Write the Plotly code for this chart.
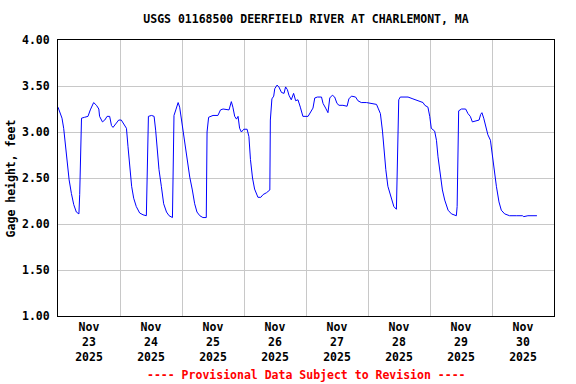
import pandas as pd
import plotly.graph_objects as go

# Hours since 2025-11-23 00:00 (local) and gage height (ft)
hours = [0.0, 0.66, 1.55, 2.2, 3.0, 3.6, 4.3, 5.2, 6.1, 7.1, 8.1, 8.4, 8.7, 9.1, 10.3, 11.6,
         12.5, 13.8, 14.9, 15.8, 16.1, 17.2, 18.1, 19.0, 20.0, 20.7, 21.3, 22.3, 23.5, 24.5,
         25.4, 26.5, 27.1, 27.8, 28.5, 29.3, 30.3, 31.6, 32.9, 34.2, 34.6, 35.0, 36.2, 37.2,
         37.8, 38.3, 39.1, 40.0, 40.9, 42.0, 43.0, 44.3, 44.5, 44.9, 45.6, 46.5, 47.1, 47.8,
         48.4, 49.0, 49.7, 50.3, 51.0, 52.0, 52.9, 53.8, 54.9, 56.1, 57.4, 57.7, 58.3, 60.0,
         61.9, 62.9, 63.9, 66.2, 67.1, 67.7, 68.4, 69.1, 69.7, 70.3, 71.0, 71.9, 73.2, 73.9,
         74.5, 75.3, 76.1, 77.4, 78.5, 79.4, 80.7, 82.0, 82.2, 82.8, 83.5, 83.9, 84.8, 85.5,
         86.5, 87.5, 88.1, 88.8, 89.4, 90.3, 91.2, 92.0, 92.9, 93.8, 94.8, 96.8, 97.8, 98.7,
         99.4, 100.4, 102.0, 102.6, 103.6, 104.5, 105.2, 106.2, 107.1, 108.0, 108.8, 110.3,
         111.9, 112.6, 113.6, 115.2, 116.1, 117.4, 119.4, 121.3, 123.3, 123.9, 124.8, 125.6,
         126.2, 126.9, 127.7, 129.1, 130.0, 131.0, 131.2, 131.9, 132.5, 135.5, 137.4, 139.4,
         141.3, 142.0, 143.2, 143.9, 144.5, 145.8, 146.5, 147.1, 148.0, 148.8, 149.7, 151.0,
         152.3, 154.2, 154.5, 154.8, 155.1, 156.2, 157.8, 158.7, 159.6, 160.4, 162.0, 163.0,
         163.6, 164.1, 164.8, 165.6, 166.4, 167.4, 168.0, 168.8, 169.7, 170.7, 171.6, 172.9,
         174.8, 177.4, 179.8, 180.3, 181.9, 185.4]
gage_ft = [3.27, 3.22, 3.15, 3.04, 2.84, 2.62, 2.48, 2.33, 2.21, 2.13, 2.11, 2.32, 2.79, 3.15, 3.16, 3.17,
           3.24, 3.32, 3.29, 3.25, 3.17, 3.11, 3.13, 3.17, 3.17, 3.07, 3.05, 3.09, 3.13, 3.13,
           3.09, 3.04, 2.84, 2.62, 2.41, 2.28, 2.19, 2.12, 2.10, 2.09, 2.51, 3.17, 3.18, 3.17,
           3.02, 2.84, 2.59, 2.41, 2.22, 2.13, 2.09, 2.07, 2.44, 3.18, 3.24, 3.32, 3.27, 3.13,
           2.99, 2.88, 2.77, 2.66, 2.51, 2.37, 2.22, 2.13, 2.09, 2.07, 2.07, 3.00, 3.16, 3.18,
           3.18, 3.24, 3.25, 3.24, 3.33, 3.27, 3.17, 3.14, 3.17, 3.04, 3.00, 3.03, 3.03, 2.95,
           2.70, 2.50, 2.38, 2.29, 2.29, 2.32, 2.34, 2.37, 3.13, 3.36, 3.39, 3.47, 3.51, 3.49,
           3.43, 3.42, 3.49, 3.46, 3.40, 3.35, 3.42, 3.34, 3.35, 3.27, 3.17, 3.17, 3.22, 3.26,
           3.37, 3.38, 3.38, 3.31, 3.26, 3.21, 3.37, 3.40, 3.38, 3.31, 3.29, 3.29,
           3.28, 3.36, 3.39, 3.38, 3.34, 3.32, 3.32, 3.31, 3.30, 3.26, 3.20, 3.01,
           2.80, 2.59, 2.41, 2.28, 2.19, 2.16, 2.52, 3.35, 3.38, 3.38, 3.36, 3.34,
           3.32, 3.29, 3.27, 3.17, 3.04, 3.01, 2.91, 2.73, 2.51, 2.37, 2.26, 2.15,
           2.11, 2.09, 2.19, 2.70, 3.23, 3.25, 3.25, 3.20, 3.17, 3.11, 3.12, 3.13,
           3.19, 3.21, 3.15, 3.06, 2.97, 2.91, 2.77, 2.59, 2.41, 2.24, 2.15, 2.11,
           2.09, 2.09, 2.09, 2.08, 2.09, 2.09]

days = ["2025-11-23", "2025-11-24", "2025-11-25", "2025-11-26",
        "2025-11-27", "2025-11-28", "2025-11-29", "2025-11-30"]
day_labels = ["Nov<br>23<br>2025", "Nov<br>24<br>2025", "Nov<br>25<br>2025", "Nov<br>26<br>2025",
              "Nov<br>27<br>2025", "Nov<br>28<br>2025", "Nov<br>29<br>2025", "Nov<br>30<br>2025"]
y_ticks = [1.0, 1.5, 2.0, 2.5, 3.0, 3.5, 4.0]

start = pd.Timestamp("2025-11-23 00:00")
times = start + pd.to_timedelta(hours, unit="h")
noon_ticks = [pd.Timestamp(d) + pd.Timedelta(hours=12) for d in days]

FONT = "DejaVu Sans Mono"

fig = go.Figure()
fig.add_trace(go.Scatter(x=times, y=gage_ft, mode="lines",
                         line=dict(color="#0000ff", width=1), showlegend=False,
                         hoverinfo="x+y"))

fig.update_layout(
    width=576, height=384,
    margin=dict(l=58, r=22, t=40, b=68, autoexpand=False),
    paper_bgcolor="white", plot_bgcolor="white",
    font=dict(family=FONT, size=11.5, color="black"),
    title=dict(text="<b>USGS 01168500 DEERFIELD RIVER AT CHARLEMONT, MA</b>",
               x=0.5, xref="paper", y=0.95, yref="container", yanchor="middle",
               font=dict(family=FONT, size=11.5, color="black")),
    xaxis=dict(
        type="date",
        range=[start, start + pd.Timedelta(days=8)],
        tickmode="array", tickvals=noon_ticks,
        ticktext=["<b>" + t.replace("<br>", "</b><br><b>") + "</b>" for t in day_labels],
        showgrid=False, ticks="", zeroline=False,
        showline=True, linecolor="black", linewidth=1, mirror=True,
        minor=dict(tickmode="linear", tick0=start, dtick=86400000,
                   showgrid=True, gridcolor="#c8c8c8", gridwidth=1, ticks=""),
        tickfont=dict(family=FONT, size=11.5, color="black"),
        automargin=False,
    ),
    yaxis=dict(
        range=[1.0, 4.0], tickmode="array", tickvals=y_ticks,
        ticktext=["<b>%.2f</b>" % v for v in y_ticks],
        showgrid=True, gridcolor="#c8c8c8", gridwidth=1, ticks="", zeroline=False,
        showline=True, linecolor="black", linewidth=1, mirror=True,
        ticklabelstandoff=5,
        tickfont=dict(family=FONT, size=11.5, color="black"),
        automargin=False,
    ),
)

fig.add_annotation(text="<b>Gage height, feet</b>", textangle=-90,
                   xref="paper", yref="paper", x=-0.094, y=0.5,
                   xanchor="center", yanchor="middle", showarrow=False,
                   font=dict(family=FONT, size=11.5, color="black"))

fig.add_annotation(text="<b>---- Provisional Data Subject to Revision ----</b>",
                   xref="paper", yref="paper", x=0.5, y=-0.214, yanchor="middle",
                   showarrow=False, font=dict(family=FONT, size=11.5, color="#ff0000"))

# remove the browser's default 8px body margin so the 576x384 figure fills the window
fig.write_html("out.html",
               config={"displayModeBar": False},
               post_script="document.body.style.margin='0px';document.body.style.overflow='hidden';")
